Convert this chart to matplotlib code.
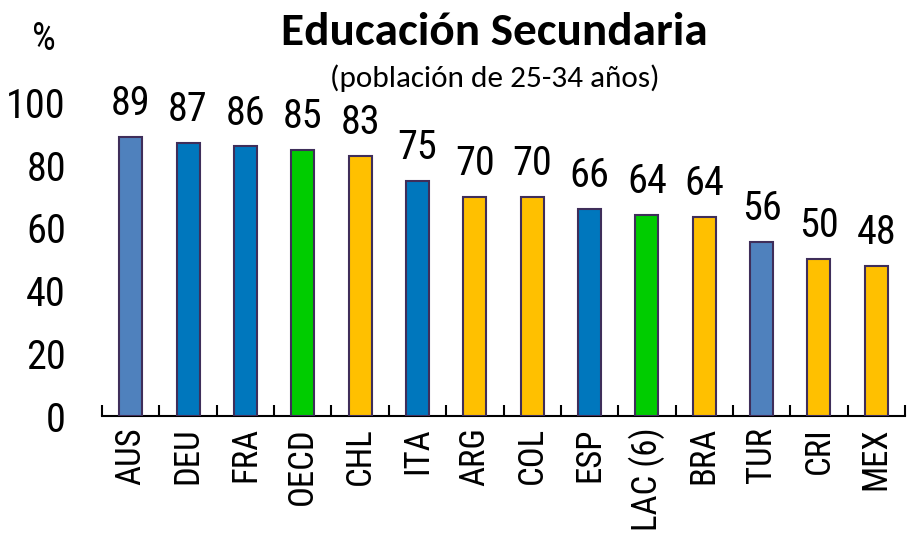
import matplotlib
matplotlib.use("Agg")
import matplotlib.pyplot as plt
from matplotlib.ticker import FixedLocator
import numpy as np

categories = ["AUS", "DEU", "FRA", "OECD", "CHL", "ITA", "ARG", "COL", "ESP",
              "LAC (6)", "BRA", "TUR", "CRI", "MEX"]
values = [89, 87, 86, 85, 83, 75, 70, 70, 66, 64, 63.5, 55.5, 50, 48]
labels = ["89", "87", "86", "85", "83", "75", "70", "70", "66", "64", "64", "56", "50", "48"]
groups = ["ref", "eu", "eu", "avg", "lat", "eu", "lat", "lat", "eu", "avg", "lat", "ref", "lat", "lat"]
group_colors = {"ref": "#4F81BD", "eu": "#0077BD", "avg": "#00CC00", "lat": "#FFC000"}
yticks = [0, 20, 40, 60, 80, 100]

numfont = ["Roboto Condensed", "Liberation Sans", "DejaVu Sans"]
titlefont = ["Carlito", "Lato", "DejaVu Sans"]

fig = plt.figure(figsize=(9.08, 5.33), dpi=100)
ax = fig.add_axes([102/908, 1-416/533, 803/908, (416-102.5)/533])

x = np.arange(len(categories))
colors = [group_colors[g] for g in groups]
ax.bar(x, values, width=0.4, color=colors, edgecolor="#3F2E5A", linewidth=1.5, zorder=3)

for xi, v, lab in zip(x, values, labels):
    ax.annotate(lab, (xi, v), xytext=(0, 10), textcoords="offset points",
                ha="center", va="bottom", fontsize=29, family=numfont, clip_on=False)

ax.set_xlim(-0.5, len(categories) - 0.5)
ax.set_ylim(0, 100)
for s in ["left", "right", "top"]:
    ax.spines[s].set_visible(False)
ax.spines["bottom"].set_linewidth(1.5)
ax.spines["bottom"].set_color("black")

ax.set_yticks(yticks)
ax.set_yticklabels([str(t) for t in yticks], fontsize=29, family=numfont)
ax.tick_params(axis="y", length=0, pad=26)

ax.set_xticks(x)
ax.set_xticklabels(categories, rotation=90, fontsize=25, family=numfont)
ax.tick_params(axis="x", which="major", length=0, pad=8)
ax.xaxis.set_minor_locator(FixedLocator(np.arange(-0.5, len(categories), 1.0)))
ax.tick_params(axis="x", which="minor", direction="in", length=8, width=1.5, color="black")

fig.text(494/908, 1-32/533, "Educación Secundaria", ha="center", va="center",
         fontsize=34, fontweight="bold", family=titlefont)
fig.text(495/908, 1-78/533, "(población de 25-34 años)", ha="center", va="center",
         fontsize=22.5, family=titlefont)
fig.text(44/908, 1-40/533, "%", ha="center", va="center", fontsize=27, family=numfont)

fig.savefig("out.png", dpi=100)
